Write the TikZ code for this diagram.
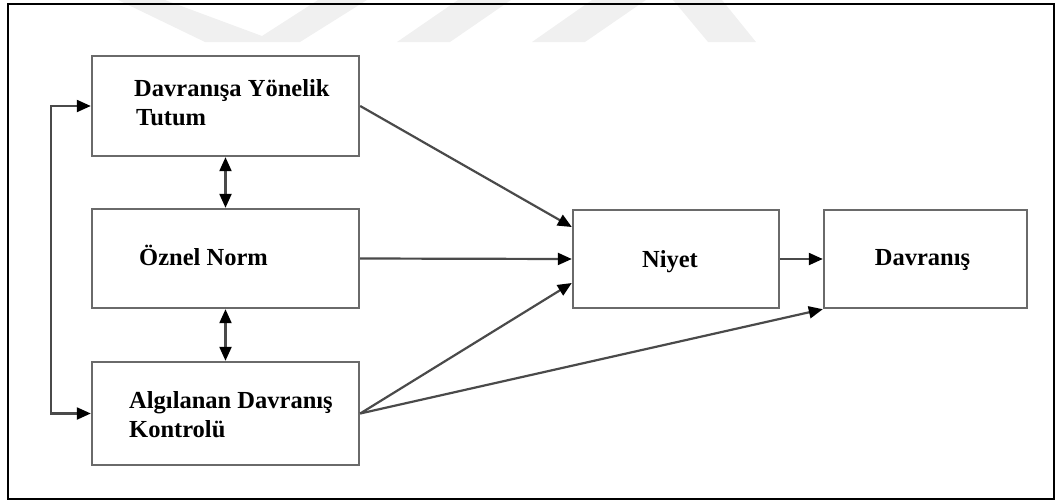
\documentclass[tikz,border=0pt]{standalone}
\usepackage{fontspec}
\setmainfont{Liberation Serif}
\usetikzlibrary{arrows.meta,calc}
\definecolor{boxline}{HTML}{6A6A6A}
\definecolor{linkline}{HTML}{4A4A4A}
\definecolor{watergray}{HTML}{F0F0F0}
\begin{document}
\begin{tikzpicture}[x=1pt,y=-1pt,
  box/.style={draw=boxline,line width=2.4pt,rectangle,inner sep=0pt},
  txt/.style={anchor=base west,inner sep=0pt,font=\fontsize{24.5}{29}\selectfont\bfseries},
  ctxt/.style={anchor=base,inner sep=0pt,font=\fontsize{24.5}{29}\selectfont\bfseries},
  tip/.style={Triangle[length=14pt,width=12pt,color=black]},
  link/.style={draw=linkline,line width=2.2pt,-{Triangle[length=14pt,width=12pt,color=black]}},
  dlink/.style={draw=linkline,line width=2.2pt,{Triangle[length=14pt,width=12pt,color=black]}-{Triangle[length=14pt,width=12pt,color=black]}}]
  \useasboundingbox (0,0) rectangle (1055,501);
  % faint background marks along the top edge
  \fill[watergray] (118,0) -- (165,0) -- (262,36) -- (318,0) -- (367,0) -- (300,42) -- (205,42) -- cycle;
  \fill[watergray] (397,42) -- (450,42) -- (511,0) -- (458,0) -- cycle;
  \fill[watergray] (532,42) -- (585,42) -- (646,0) -- (592,0) -- cycle;
  \fill[watergray] (673,0) -- (722,0) -- (756,42) -- (708,42) -- cycle;
  % outer frame
  \draw[black,line width=2pt] (8,4) rectangle (1054,499);

  % boxes
  \node[box,minimum width=267pt,minimum height=100pt] (tut) at (225.5,106) {};
  \node[box,minimum width=267pt,minimum height=99pt] (norm) at (225.5,258.5) {};
  \node[box,minimum width=267pt,minimum height=103pt] (pbc) at (225.5,413.5) {};
  \node[box,minimum width=206pt,minimum height=98pt] (niy) at (676,259) {};
  \node[box,minimum width=203pt,minimum height=98pt] (beh) at (925.5,259) {};

  % labels
  \node[txt] (tut1) at (134,96) {Davranışa Yönelik};
  \node[txt] (tut2) at (136,125) {Tutum};
  \node[txt] (normt) at (139,265) {Öznel Norm};
  \node[txt] (pbc1) at (129,408) {Algılanan Davranış};
  \node[txt] (pbc2) at (129,437) {Kontrolü};
  \node[ctxt] (niyt) at (670,267) {Niyet};
  \node[ctxt] (beht) at (922.5,265) {Davranış};

  % connectors
  \draw[link] (tut.east) -- ($(niy.west)+(0,-32)$);
  \draw[link] (norm.east) -- (niy.west);
  \draw[link] (pbc.east) -- ($(niy.west)+(0,24)$);
  \draw[link] (pbc.east) -- (beh.south west);
  \draw[link] (niy.east) -- (beh.west);
  \draw[dlink] (tut.south) -- (norm.north);
  \draw[dlink] (norm.south) -- (pbc.north);
  \draw[dlink] (tut.west) -- ++(-40,0) |- (pbc.west);
\end{tikzpicture}
\end{document}
